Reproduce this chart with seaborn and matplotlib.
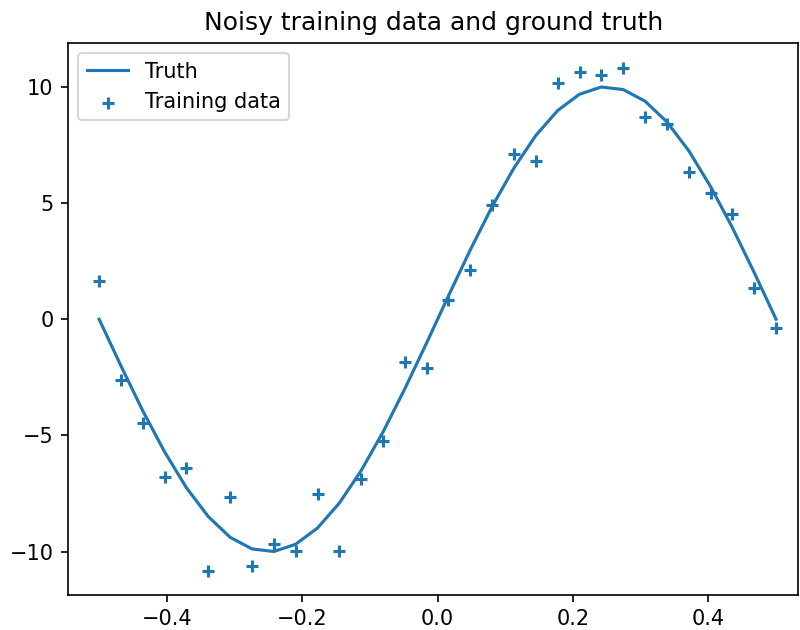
import matplotlib
matplotlib.use("Agg")
import matplotlib.pyplot as plt
import seaborn as sns
import pandas as pd

# Sample positions shared by the ground truth and the noisy observations
x = [-0.5, -0.4677, -0.4355, -0.4032, -0.371, -0.3387, -0.3065, -0.2742,
     -0.2419, -0.2097, -0.1774, -0.1452, -0.1129, -0.0806, -0.0484, -0.0161,
     0.0161, 0.0484, 0.0806, 0.1129, 0.1452, 0.1774, 0.2097, 0.2419,
     0.2742, 0.3065, 0.3387, 0.371, 0.4032, 0.4355, 0.4677, 0.5]

# Ground-truth curve values
truth = [0.00, -2.01, -3.94, -5.71, -7.25, -8.49, -9.38, -9.88,
         -9.99, -9.68, -8.98, -7.91, -6.51, -4.85, -2.99, -1.01,
         1.01, 2.99, 4.85, 6.51, 7.91, 8.98, 9.68, 9.99,
         9.88, 9.38, 8.49, 7.25, 5.71, 3.94, 2.01, 0.00]

# Noisy training observations
training = [1.63, -2.63, -4.47, -6.79, -6.40, -10.82, -7.65, -10.63,
            -9.66, -9.96, -7.52, -9.97, -6.86, -5.23, -1.83, -2.09,
            0.84, 2.13, 4.92, 7.12, 6.82, 10.16, 10.62, 10.52,
            10.80, 8.72, 8.41, 6.33, 5.45, 4.52, 1.34, -0.38]

df = pd.DataFrame({"x": x, "truth": truth, "training": training})

color = "#1f77b4"
fig, ax = plt.subplots(figsize=(800 / 150, 630 / 150), dpi=150)
fig.subplots_adjust(left=0.085, right=0.998, top=0.932, bottom=0.056)

sns.lineplot(data=df, x="x", y="truth", ax=ax, color=color, linewidth=1.5,
             label="Truth")
sns.scatterplot(data=df, x="x", y="training", ax=ax, color=color, marker="+",
                s=36, linewidth=1.5, label="Training data")

ax.set_xlim(-0.546, 0.533)
ax.set_ylim(-11.85, 11.89)
ax.set_xticks([-0.4, -0.2, 0.0, 0.2, 0.4])
ax.set_yticks([-10, -5, 0, 5, 10])
ax.set_xlabel("")
ax.set_ylabel("")
ax.set_title("Noisy training data and ground truth")
ax.legend(loc="upper left")

fig.savefig("out.png", dpi=150)
